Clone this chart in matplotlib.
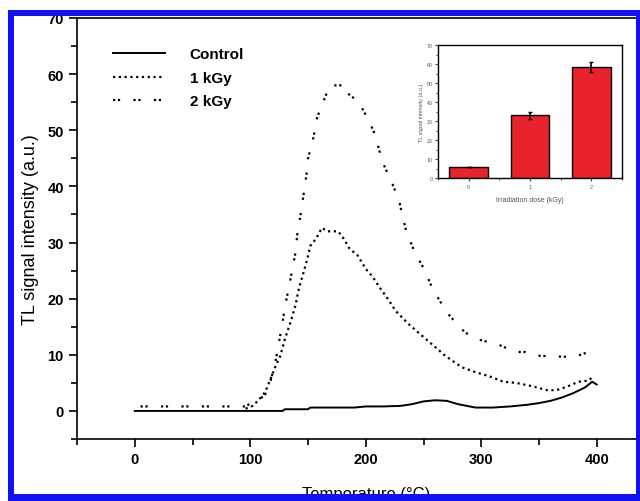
import numpy as np
import matplotlib
matplotlib.use("Agg")
import matplotlib.pyplot as plt
from matplotlib.ticker import MultipleLocator
from matplotlib.patches import Rectangle

plt.rcParams['font.family'] = ['Liberation Sans', 'DejaVu Sans']

# control (solid)
ctrl_t = [0, 128, 130, 150, 152, 190, 200, 215, 230, 240, 250, 260, 270, 280,
          295, 310, 325, 340, 350, 360, 370, 380, 390, 396, 400]
ctrl_s = [0, 0, 0.3, 0.3, 0.6, 0.6, 0.8, 0.8, 0.9, 1.2, 1.7, 1.9, 1.8, 1.2,
          0.6, 0.6, 0.8, 1.1, 1.4, 1.8, 2.4, 3.2, 4.2, 5.2, 4.7]

# 1 kGy (dense dots)
k1_t = [96, 102, 108, 113, 117, 122, 126, 130, 135, 139, 142, 147, 150, 152,
        157, 162, 167, 176, 180, 186, 193, 200, 206, 212, 219, 226, 237, 247,
        260, 269, 283, 295, 308, 319, 330, 342, 357, 365, 374, 384, 393, 397]
k1_s = [0.4, 0.9, 2.1, 3.4, 5.4, 8.0, 9.8, 12.8, 15.9, 18.7, 21.7, 25.3, 27.6, 29.4,
        30.7, 32.6, 32.0, 32.0, 31.0, 28.9, 27.7, 25.3, 23.9, 22.0, 20.0, 17.8, 15.5, 13.7,
        11.4, 9.8, 7.8, 6.9, 6.1, 5.2, 5.0, 4.5, 3.7, 3.7, 4.3, 5.2, 5.4, 6.2]

# 2 kGy (sparse dots)
k2_t = [5, 20, 35, 50, 65, 80, 95, 108, 115, 121, 123, 128, 130, 134, 139, 141,
        144, 149, 150, 154, 158, 161, 165, 169, 177, 183, 185, 194, 202, 207,
        211, 214, 224, 229, 235, 243, 250, 258, 263, 270, 281, 286, 296, 315,
        330, 338, 347, 352, 380, 393, 397]
k2_s = [0.8, 0.8, 0.8, 0.8, 0.8, 0.8, 0.8, 2.0, 3.4, 8.0, 10.0, 15.9, 18.5, 22.6, 28.0, 32.0,
        35.5, 42.6, 45.0, 48.0, 52.4, 53.8, 56.0, 58.0, 58.0, 58.0, 56.5, 55.0, 52.0, 49.7,
        47.0, 44.6, 40.0, 37.3, 32.0, 28.0, 25.5, 21.7, 20.0, 17.6, 15.0, 14.0, 12.8, 11.8,
        10.5, 10.5, 9.9, 9.8, 9.6, 10.5, 11.5]

# inset bars
dose = [0, 1, 2]
dose_labels = ['0', '1', '2']
tl_sum = [6.0, 32.9, 58.3]
tl_err = [0.0, 1.8, 2.6]

fig = plt.figure(figsize=(6.4, 5.02), dpi=100)
ax = fig.add_axes([77 / 640, 1 - 440 / 502, 577.5 / 640, 421 / 502])

ax.plot(ctrl_t, ctrl_s, '-', color='k', lw=1.4, label='Control')
ax.plot(k1_t, k1_s, color='k', lw=1.6, linestyle=(0, (1, 1.6)), label='1 kGy')
ax.plot(k2_t, k2_s, color='k', lw=1.6, linestyle=(0, (1, 1.2, 1, 6)), label='2 kGy')

ax.set_xlim(-50, 450)
ax.set_ylim(-5, 70)
ax.xaxis.set_major_locator(MultipleLocator(100))
ax.xaxis.set_minor_locator(MultipleLocator(50))
ax.yaxis.set_major_locator(MultipleLocator(10))
ax.yaxis.set_minor_locator(MultipleLocator(5))
ax.tick_params(which='both', direction='out', width=1.2, top=False, right=False)
ax.tick_params(which='major', length=6, labelsize=10.5)
ax.tick_params(which='minor', length=4)
for lab in ax.get_xticklabels() + ax.get_yticklabels():
    lab.set_fontweight('bold')
for sp in ax.spines.values():
    sp.set_linewidth(1.2)
ax.set_xlabel('Temperature (°C)', fontsize=12, labelpad=14)
ax.set_ylabel('TL signal intensity (a.u.)', fontsize=13, labelpad=6)

leg = ax.legend(loc='upper left', bbox_to_anchor=(0.063, 0.93), frameon=False,
                handlelength=3.4, handletextpad=1.6, labelspacing=0.62,
                borderpad=0, borderaxespad=0, prop={'size': 11, 'weight': 'bold'})

# inset
ins = fig.add_axes([438 / 640, 1 - 179 / 502, 184 / 640, 133 / 502])
ins.bar(dose, tl_sum, width=0.63, color='#e8232b', edgecolor='k', linewidth=1.0,
        yerr=tl_err, error_kw=dict(ecolor='k', elinewidth=1.2, capsize=1.5, capthick=1))
ins.set_xlim(-0.5, 2.5)
ins.set_ylim(0, 70)
ins.set_xticks(dose)
ins.set_xticklabels(dose_labels)
ins.xaxis.set_minor_locator(MultipleLocator(0.5))
ins.yaxis.set_major_locator(MultipleLocator(10))
ins.yaxis.set_minor_locator(MultipleLocator(5))
ins.tick_params(which='both', direction='out', width=0.8, top=False, right=False,
                labelsize=3.8, pad=1.5, colors='#444444', labelcolor='#555555')
ins.tick_params(which='major', length=2.5)
ins.tick_params(which='minor', length=1.5)
for sp in ins.spines.values():
    sp.set_linewidth(1.0)
ins.set_xlabel('Irradiation dose (kGy)', fontsize=5, color='#555555', labelpad=5)
ins.set_ylabel('TL signal intensity (a.u.)', fontsize=4, color='#555555', labelpad=2)

# blue frame around the picture
blue = '#1010f0'
fig.add_artist(Rectangle((0, 1 - 11 / 502), 1, 11 / 502, transform=fig.transFigure,
                         facecolor='white', edgecolor='none', zorder=9))
fig.add_artist(Rectangle((0, 0), 8 / 640, 1, transform=fig.transFigure,
                         facecolor='white', edgecolor='none', zorder=9))
fig.add_artist(Rectangle((8 / 640, 1 - 17 / 502), 1, 6 / 502, transform=fig.transFigure,
                         facecolor=blue, edgecolor='none', zorder=10))
fig.add_artist(Rectangle((8 / 640, 0), 6 / 640, 1 - 11 / 502, transform=fig.transFigure,
                         facecolor=blue, edgecolor='none', zorder=10))
fig.add_artist(Rectangle((8 / 640, 0), 1, 7 / 502, transform=fig.transFigure,
                         facecolor=blue, edgecolor='none', zorder=10))
fig.add_artist(Rectangle((636 / 640, 0), 4 / 640, 1 - 11 / 502, transform=fig.transFigure,
                         facecolor=blue, edgecolor='none', zorder=10))

fig.savefig('out.png', dpi=100)
